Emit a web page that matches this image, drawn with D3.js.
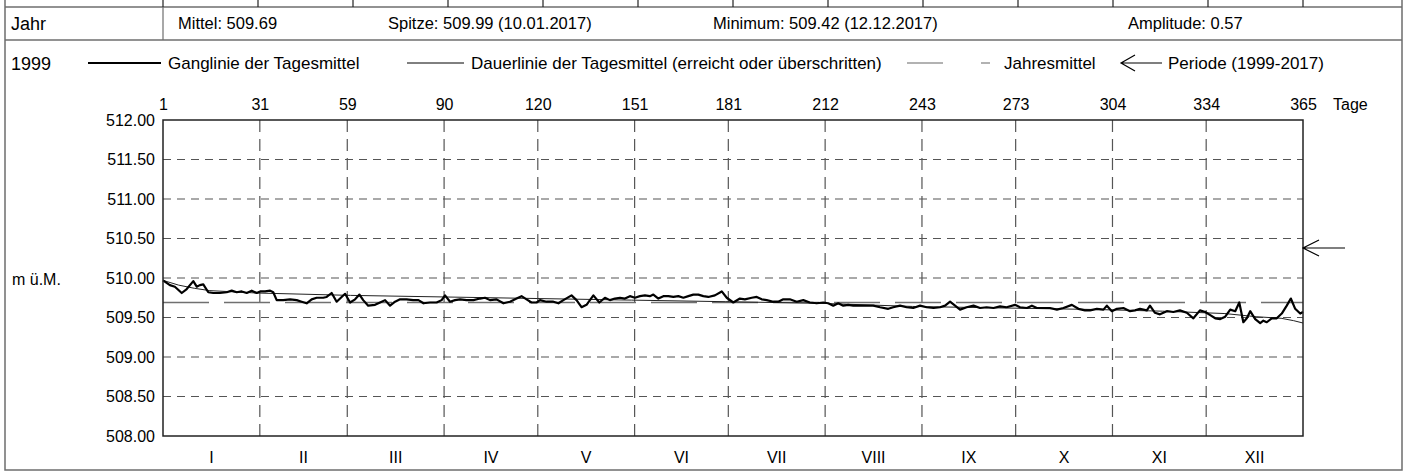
<!DOCTYPE html>
<html>
<head>
<meta charset="utf-8">
<script src="https://cdn.jsdelivr.net/npm/d3@7"></script>
<style>
  body { margin: 0; background: #fff; }
  svg { display: block; font-family: "Liberation Sans", Arial, sans-serif; }
</style>
</head>
<body>
<script>
// Kennwerte
var jahr = "1999";
var mittel = 509.69;
var statTexte = ["Mittel: 509.69", "Spitze: 509.99 (10.01.2017)", "Minimum: 509.42 (12.12.2017)", "Amplitude: 0.57"];
var periodeMittel = 510.38;

// Achsen
var monatsEnden = [0, 31, 59, 90, 120, 151, 181, 212, 243, 273, 304, 334, 365];
var monate = ["I", "II", "III", "IV", "V", "VI", "VII", "VIII", "IX", "X", "XI", "XII"];
var yTicks = [508, 508.5, 509, 509.5, 510, 510.5, 511, 511.5, 512];

// Ganglinie der Tagesmittel
var gangTage = [0, 2.2, 3.8, 6, 7.6, 9.7, 10.8, 11.8, 12.9, 14.5, 16.1, 18.2, 20.4, 22, 23.6, 25.2, 26.8, 28.4, 30, 31.1,
  32.7, 34.3, 35.3, 36.4, 38.5, 40.7, 42.8, 44.4, 46, 47.6, 49.2, 51.3, 52.4, 54, 55.6, 57.2, 58.3, 59.9, 61.5, 62.9,
  64.1, 65.7, 67.9, 69.5, 71.1, 72.7, 74.3, 75.9, 78, 80.1, 81.8, 83.4, 85.5, 87.6, 89.2, 90.3, 91.9, 93.5, 95.1, 97.2,
  99.4, 101.5, 103.1, 104.7, 106.8, 109, 111.1, 113.2, 114.8, 116.4, 118, 119.6, 120.7, 122.8, 125, 126.6, 128.2, 130.8, 132.4, 134,
  135.6, 137.8, 139.7, 141.5, 143.1, 144.7, 146.3, 147.9, 149.5, 151.1, 152.7, 154.3, 155.9, 157, 158.6, 160.2, 161.8, 163.4, 165, 166.6,
  168.2, 169.8, 171.4, 173, 174.6, 176.7, 178.9, 180.5, 182.6, 184.7, 186.3, 188.5, 190.1, 191.7, 193.3, 195.4, 197, 198.6, 200.7, 202.9,
  205, 207.1, 209.3, 211.4, 213, 214.6, 216.2, 217.8, 219.4, 221, 223.1, 225.3, 227.4, 229.6, 232.2, 233.8, 236, 238.1, 240.2, 242.4,
  244.5, 246.7, 248.8, 250.4, 252, 253.6, 255.2, 257.3, 259.5, 261.6, 263.7, 265.9, 268, 270.1, 272.8, 274.4, 276.6, 278.2, 279.8, 281.9,
  284, 286.2, 288.3, 291, 293.1, 295.2, 296.8, 299, 301.1, 302.2, 303.8, 305.4, 307.5, 309.6, 311.2, 312.8, 315, 316, 317.6, 319.2,
  321.4, 323.5, 325.6, 327.8, 329.9, 332, 333.7, 335.3, 336.9, 338.5, 340.1, 341.7, 343.3, 344.6, 345.9, 347, 348.1, 349.7, 351.3, 352.3,
  353.4, 355, 356.6, 358.2, 359.8, 361.1, 362.5, 364.1, 365];
var gangWerte = [509.97, 509.91, 509.89, 509.81, 509.86, 509.96, 509.89, 509.91, 509.92, 509.82, 509.81, 509.81, 509.82, 509.84, 509.82, 509.83, 509.81, 509.84, 509.81, 509.83,
  509.83, 509.84, 509.82, 509.72, 509.72, 509.73, 509.72, 509.70, 509.68, 509.73, 509.75, 509.75, 509.76, 509.81, 509.70, 509.76, 509.80, 509.69, 509.73, 509.79,
  509.72, 509.65, 509.66, 509.69, 509.72, 509.65, 509.70, 509.73, 509.73, 509.72, 509.72, 509.68, 509.69, 509.69, 509.72, 509.78, 509.70, 509.72, 509.73, 509.72,
  509.72, 509.74, 509.75, 509.72, 509.73, 509.68, 509.70, 509.74, 509.77, 509.73, 509.69, 509.69, 509.72, 509.70, 509.70, 509.68, 509.72, 509.78, 509.72, 509.63,
  509.66, 509.78, 509.69, 509.75, 509.72, 509.74, 509.75, 509.74, 509.77, 509.75, 509.77, 509.78, 509.77, 509.79, 509.74, 509.77, 509.77, 509.76, 509.77, 509.75,
  509.77, 509.79, 509.79, 509.77, 509.76, 509.78, 509.83, 509.75, 509.69, 509.74, 509.73, 509.75, 509.76, 509.73, 509.72, 509.70, 509.70, 509.73, 509.73, 509.70,
  509.72, 509.69, 509.68, 509.69, 509.68, 509.65, 509.68, 509.65, 509.66, 509.65, 509.65, 509.65, 509.65, 509.63, 509.61, 509.63, 509.65, 509.63, 509.62, 509.65,
  509.63, 509.62, 509.63, 509.65, 509.70, 509.65, 509.60, 509.63, 509.65, 509.62, 509.63, 509.62, 509.64, 509.63, 509.66, 509.63, 509.62, 509.65, 509.62, 509.62,
  509.62, 509.60, 509.62, 509.66, 509.61, 509.59, 509.59, 509.61, 509.60, 509.65, 509.58, 509.61, 509.62, 509.58, 509.59, 509.61, 509.59, 509.65, 509.56, 509.54,
  509.58, 509.57, 509.59, 509.56, 509.49, 509.59, 509.57, 509.53, 509.49, 509.48, 509.51, 509.60, 509.58, 509.69, 509.44, 509.49, 509.58, 509.48, 509.43, 509.46,
  509.44, 509.49, 509.49, 509.55, 509.65, 509.74, 509.61, 509.55, 509.57];

// Dauerlinie der Tagesmittel
var dauerTage = [0, 5, 10, 15, 30, 60, 90, 120, 150, 180, 210, 240, 270, 300, 320, 340, 350, 358, 362, 365];
var dauerWerte = [509.97, 509.91, 509.87, 509.84, 509.81, 509.78, 509.76, 509.74, 509.72, 509.70, 509.68, 509.64, 509.62, 509.60, 509.58, 509.55, 509.51, 509.49, 509.46, 509.43];

var width = 1406, height = 472;
var plot = {left: 163, right: 1303, top: 120, bottom: 436};

var svg = d3.select("body").append("svg").attr("width", width).attr("height", height);

var x = d3.scaleLinear().domain([0, 365]).range([plot.left, plot.right]);
var y = d3.scaleLinear().domain([508, 512]).range([plot.bottom, plot.top]);

/* Rahmen und Kopfzeilen */
var frame = "#6e6e6e";
svg.append("path").attr("fill", "none").attr("stroke", frame).attr("stroke-width", 1.5)
  .attr("d", "M5,0V470H1402V0");
svg.append("line").attr("x1", 5).attr("x2", 1402).attr("y1", 7).attr("y2", 7)
  .attr("stroke", frame).attr("stroke-width", 1.5);
svg.append("line").attr("x1", 5).attr("x2", 1402).attr("y1", 40).attr("y2", 40)
  .attr("stroke", frame).attr("stroke-width", 1.5);
svg.append("line").attr("x1", 163).attr("x2", 163).attr("y1", 7).attr("y2", 40)
  .attr("stroke", frame).attr("stroke-width", 1.2);
// Stummel der Tabelle darueber
svg.append("g").selectAll("line").data(d3.range(13)).join("line")
  .attr("x1", function(i){ return plot.left + i * (plot.right - plot.left) / 12; })
  .attr("x2", function(i){ return plot.left + i * (plot.right - plot.left) / 12; })
  .attr("y1", 0).attr("y2", 7)
  .attr("stroke", "#222").attr("stroke-width", 1.2);

svg.append("text").attr("x", 11).attr("y", 30).style("font-size", "18px").text("Jahr");
var statX = [178, 388, 713, 1128];
svg.append("g").selectAll("text").data(statTexte).join("text")
  .attr("x", function(d, i){ return statX[i]; }).attr("y", 29)
  .style("font-size", "16.5px").text(function(d){ return d; });

/* Legende */
var leg = svg.append("g").style("font-size", "17px");
leg.append("text").attr("x", 11).attr("y", 70).style("font-size", "18px").text(jahr);
leg.append("line").attr("x1", 88).attr("x2", 161).attr("y1", 63).attr("y2", 63).attr("stroke", "#000").attr("stroke-width", 2.2);
leg.append("text").attr("x", 168).attr("y", 69).text("Ganglinie der Tagesmittel");
leg.append("line").attr("x1", 407).attr("x2", 464).attr("y1", 63).attr("y2", 63).attr("stroke", "#000").attr("stroke-width", 1);
leg.append("text").attr("x", 471).attr("y", 69).text("Dauerlinie der Tagesmittel (erreicht oder überschritten)");
leg.append("line").attr("x1", 907).attr("x2", 990).attr("y1", 63).attr("y2", 63)
  .attr("stroke", "#666").attr("stroke-width", 1.2).attr("stroke-dasharray", "36,38,9,50");
leg.append("text").attr("x", 1004).attr("y", 69).text("Jahresmittel");
leg.append("path").attr("fill", "none").attr("stroke", "#000").attr("stroke-width", 1.2)
  .attr("d", "M1162,63H1121M1135,55L1121,63L1135,71");
leg.append("text").attr("x", 1168).attr("y", 69).text("Periode (1999-2017)");

/* Gitter */
var grid = svg.append("g").attr("stroke", "#555").attr("stroke-width", 1.2);
grid.selectAll(".h").data(yTicks.slice(1, -1)).join("line")
  .attr("x1", plot.left).attr("x2", plot.right)
  .attr("y1", function(d){ return y(d); }).attr("y2", function(d){ return y(d); })
  .attr("stroke-dasharray", "8,6");
grid.selectAll(".v").data(monatsEnden.slice(1, -1)).join("line")
  .attr("x1", function(d){ return x(d); }).attr("x2", function(d){ return x(d); })
  .attr("y1", plot.top).attr("y2", plot.bottom)
  .attr("stroke-dasharray", "12,7");

/* Achsen */
var yAxis = svg.append("g").attr("transform", "translate(" + plot.left + ",0)")
  .call(d3.axisLeft(y).tickValues(yTicks).tickFormat(d3.format(".2f")).tickSize(0).tickPadding(8));
var xAxis = svg.append("g").attr("transform", "translate(0," + plot.top + ")")
  .call(d3.axisTop(x).tickValues(monatsEnden).tickFormat(function(d){ return d === 0 ? "1" : d; }).tickSize(0).tickPadding(10));
[yAxis, xAxis].forEach(function(a){
  a.select(".domain").remove();
  a.selectAll("text").attr("fill", "#000").style("font-size", "16px")
    .style("font-family", "'Liberation Sans', Arial, sans-serif");
});
svg.append("text").attr("x", 1333).attr("y", 110).style("font-size", "16px").text("Tage");
svg.append("text").attr("x", 12).attr("y", 285).style("font-size", "16px").text("m ü.M.");

svg.append("g").selectAll("text").data(monate).join("text")
  .attr("x", function(d, i){ return x((monatsEnden[i] + monatsEnden[i + 1]) / 2); })
  .attr("y", 463).attr("text-anchor", "middle").style("font-size", "16px")
  .text(function(d){ return d; });

/* Jahresmittel */
svg.append("line").attr("x1", plot.left).attr("x2", plot.right)
  .attr("y1", y(mittel)).attr("y2", y(mittel))
  .attr("stroke", "#707070").attr("stroke-width", 1.3).attr("stroke-dasharray", "46,15");

/* Dauerlinie */
var line = d3.line().x(function(d){ return x(d[0]); }).y(function(d){ return y(d[1]); });
svg.append("path").datum(d3.zip(dauerTage, dauerWerte))
  .attr("fill", "none").attr("stroke", "#222").attr("stroke-width", 1).attr("d", line);

/* Ganglinie */
svg.append("path").datum(d3.zip(gangTage, gangWerte))
  .attr("fill", "none").attr("stroke", "#000").attr("stroke-width", 2.2)
  .attr("stroke-linejoin", "round").attr("d", line);

/* Plotrahmen */
svg.append("rect").attr("x", plot.left).attr("y", plot.top)
  .attr("width", plot.right - plot.left).attr("height", plot.bottom - plot.top)
  .attr("fill", "none").attr("stroke", "#222").attr("stroke-width", 1.5);

/* Periodenmittel-Pfeil */
var py = y(periodeMittel);
svg.append("path").attr("fill", "none").attr("stroke", "#000").attr("stroke-width", 1.2)
  .attr("d", "M" + (plot.right + 42) + "," + py + "H" + plot.right + "M" + (plot.right + 16) + "," + (py - 8) + "L" + plot.right + "," + py + "L" + (plot.right + 16) + "," + (py + 8));
</script>
</body>
</html>
